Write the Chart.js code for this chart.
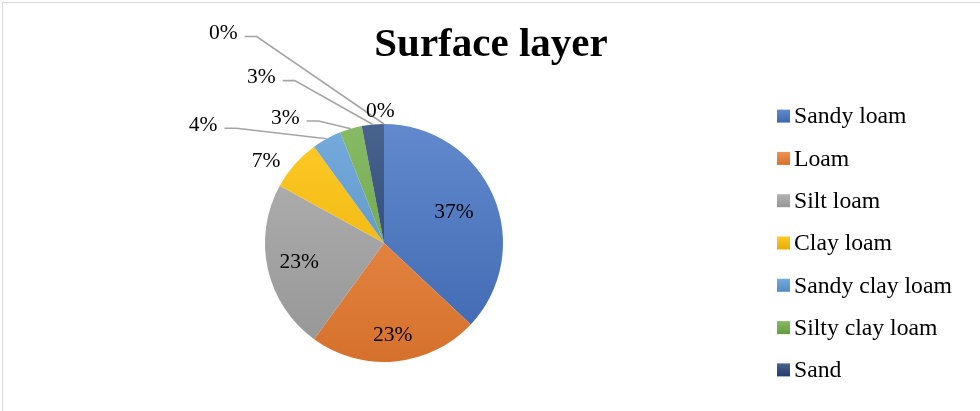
<!DOCTYPE html>
<html>
<head>
<meta charset="utf-8">
<title>Surface layer</title>
<script src="https://cdn.jsdelivr.net/npm/chart.js@4.4.1/dist/chart.umd.min.js"></script>
<style>
  html, body { margin: 0; padding: 0; background: #fff; }
  #wrap { position: relative; width: 980px; height: 411px; }
  #frame {
    position: absolute; left: 2px; top: 2px; right: 0; bottom: 0;
    border-top: 1px solid #d9d9d9; border-left: 1px solid #d9d9d9;
    pointer-events: none;
  }
</style>
</head>
<body>
<div id="wrap">
  <canvas id="soilChart" width="980" height="411"></canvas>
  <div id="frame"></div>
</div>
<script>
const titleText = "Surface layer";
const soilTypes = ["Sandy loam", "Loam", "Silt loam", "Clay loam", "Sandy clay loam", "Silty clay loam", "Sand", "Silt", "Clay"];
const sharePct = [37, 23, 23, 7, 4, 3, 3, 0, 0];
const sliceColors = ["#4472C4", "#ED7D31", "#A5A5A5", "#FFC000", "#5B9BD5", "#70AD47", "#264478", "#9E480E", "#636363"];
const legendCount = 7; // silt and clay have no share, so they stay out of the key

// percentage label spots: r = inside the slice at that fraction of the radius,
// otherwise dx/dy in radii from the centre (leader = line back to the slice)
const labelSpots = [
  { r: 0.64 },
  { r: 0.78 },
  { r: 0.73 },
  { dx: -0.99, dy: -0.69 },
  { dx: -1.52, dy: -0.99, leader: true },
  { dx: -0.83, dy: -1.05, leader: true },
  { dx: -1.03, dy: -1.39, leader: true },
  { dx: -1.35, dy: -1.76, leader: true },
  { dx: -0.03, dy: -1.11 },
];

const PIE_R = 119;
const SERIF = '"Liberation Serif", "Times New Roman", serif';

function shade(hex, amt) {
  const n = parseInt(hex.slice(1), 16);
  const f = (c) => (amt >= 0 ? Math.round(c + (255 - c) * amt) : Math.round(c * (1 + amt)));
  return `rgb(${f(n >> 16)},${f((n >> 8) & 255)},${f(n & 255)})`;
}

function vGradient(ctx, hex, y0, y1) {
  const g = ctx.createLinearGradient(0, y0, 0, y1);
  g.addColorStop(0, shade(hex, 0.16));
  g.addColorStop(1, shade(hex, -0.1));
  return g;
}

// percentages on / beside the slices
const sliceLabels = {
  id: "sliceLabels",
  afterDatasetsDraw(chart) {
    const ctx = chart.ctx;
    const meta = chart.getDatasetMeta(0);
    ctx.save();
    ctx.font = `21.5px ${SERIF}`;
    ctx.textAlign = "center";
    ctx.textBaseline = "middle";
    meta.data.forEach((arc, i) => {
      const { x, y, startAngle, endAngle, outerRadius } = arc.getProps(
        ["x", "y", "startAngle", "endAngle", "outerRadius"], true);
      const mid = (startAngle + endAngle) / 2;
      const spot = labelSpots[i];
      let tx, ty;
      if (spot.r !== undefined) {
        tx = x + Math.cos(mid) * outerRadius * spot.r;
        ty = y + Math.sin(mid) * outerRadius * spot.r;
      } else {
        tx = x + spot.dx * outerRadius;
        ty = y + spot.dy * outerRadius;
      }
      const text = sharePct[i] + "%";
      if (spot.leader) {
        const w = ctx.measureText(text).width;
        const sx = tx + w / 2 + 7;
        const sy = ty + 3;
        ctx.beginPath();
        ctx.moveTo(sx, sy);
        ctx.lineTo(sx + 12, sy);
        ctx.lineTo(x + Math.cos(mid) * outerRadius, y + Math.sin(mid) * outerRadius);
        ctx.strokeStyle = "#a5a5a5";
        ctx.lineWidth = 1.6;
        ctx.stroke();
      }
      ctx.fillStyle = "#000";
      ctx.fillText(text, tx, ty);
    });
    ctx.restore();
  },
};

// title and the key on the right
const titleAndKey = {
  id: "titleAndKey",
  afterDraw(chart) {
    const ctx = chart.ctx;
    const area = chart.chartArea;
    const cy = (area.top + area.bottom) / 2;
    ctx.save();
    ctx.fillStyle = "#000";
    ctx.textAlign = "center";
    ctx.textBaseline = "middle";
    ctx.font = `bold 41px ${SERIF}`;
    ctx.fillText(titleText, chart.width / 2 + 1, 45.5);

    const rowGap = 42.3;
    const box = 13;
    const bx = 777;
    const firstRow = cy - rowGap * (legendCount - 1) / 2;
    ctx.font = `23.7px ${SERIF}`;
    ctx.textAlign = "left";
    for (let i = 0; i < legendCount; i++) {
      const ry = firstRow + i * rowGap;
      ctx.fillStyle = vGradient(ctx, sliceColors[i], ry - box / 2, ry + box / 2);
      ctx.fillRect(bx, ry - box / 2, box, box);
      ctx.fillStyle = "#000";
      ctx.fillText(soilTypes[i], bx + box + 4, ry + 1);
    }
    ctx.restore();
  },
};

const ctx = document.getElementById("soilChart").getContext("2d");
const soilChart = new Chart(ctx, {
  type: "pie",
  data: {
    labels: soilTypes,
    datasets: [
      {
        data: sharePct,
        radius: PIE_R,
        borderWidth: 0,
        backgroundColor: (c) => {
          const area = c.chart.chartArea;
          if (!area) return sliceColors[c.dataIndex];
          const mid = (area.top + area.bottom) / 2;
          return vGradient(c.chart.ctx, sliceColors[c.dataIndex], mid - PIE_R, mid + PIE_R);
        },
      },
    ],
  },
  options: {
    responsive: false,
    animation: false,
    layout: { padding: { top: 90, bottom: 15, left: 0, right: 212 } },
    plugins: {
      legend: { display: false },
      title: { display: false },
      tooltip: { enabled: false },
    },
  },
  plugins: [sliceLabels, titleAndKey],
});
</script>
</body>
</html>
